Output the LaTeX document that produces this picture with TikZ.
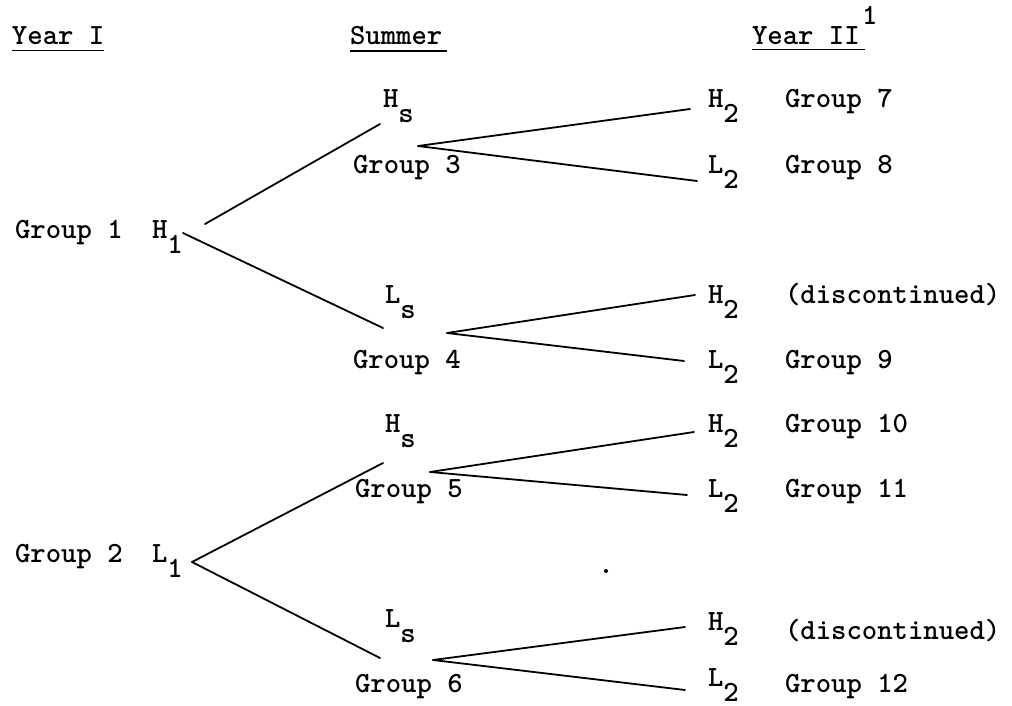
\documentclass[tikz,border=0pt]{standalone}
\begin{document}
\begin{tikzpicture}[x=1pt,y=-1pt,
  lab/.style={anchor=base west,inner sep=0pt,outer sep=0pt,font=\fontsize{29.3}{35}\selectfont\ttfamily\bfseries},
  br/.style={line width=1.8pt,line cap=round},
  ul/.style={line width=1.7pt}]
\newcommand{\lowsub}[1]{\raisebox{-15pt}{#1}}
\useasboundingbox (0,0) rectangle (1012,706);
% headings
\node[lab] (y1) at (12,45) {Year I};
\node[lab] (su) at (350,45) {Summer};
\node[lab] (y2) at (752,45) {Year II};
\node[lab] (fn) at (862,25) {1};
\draw[ul] (12,50.5) -- (104,50.5);
\draw[ul] (350,51) -- (447,51);
\draw[ul] (752,49.5) -- (865,49.5);
% year I
\node[lab] (g1) at (15,238) {Group 1};
\node[lab] (h1) at (152,238) {H\lowsub{1}};
\node[lab] (g2) at (15,562) {Group 2};
\node[lab] (l1) at (152,562) {L\lowsub{1}};
% summer
\node[lab] (hsa) at (383,108) {H\lowsub{s}};
\node[lab] (g3) at (353,173) {Group 3};
\node[lab] (lsa) at (385,303) {L\lowsub{s}};
\node[lab] (g4) at (353,368) {Group 4};
\node[lab] (hsb) at (385,432) {H\lowsub{s}};
\node[lab] (g5) at (355,497) {Group 5};
\node[lab] (lsb) at (385,627) {L\lowsub{s}};
\node[lab] (g6) at (355,692) {Group 6};
% year II
\node[lab] (h2a) at (708,108) {H\lowsub{2}};
\node[lab] (g7) at (785,108) {Group 7};
\node[lab] (l2a) at (708,173) {L\lowsub{2}};
\node[lab] (g8) at (785,173) {Group 8};
\node[lab] (h2b) at (708,303) {H\lowsub{2}};
\node[lab] (dc1) at (785,303) {(discontinued)};
\node[lab] (l2b) at (708,368) {L\lowsub{2}};
\node[lab] (g9) at (785,368) {Group 9};
\node[lab] (h2c) at (708,432) {H\lowsub{2}};
\node[lab] (g10) at (785,432) {Group 10};
\node[lab] (l2c) at (708,497) {L\lowsub{2}};
\node[lab] (g11) at (785,497) {Group 11};
\node[lab] (h2d) at (708,630) {H\lowsub{2}};
\node[lab] (dc2) at (785,639) {(discontinued)};
\node[lab] (l2d) at (708,686) {L\lowsub{2}};
\node[lab] (g12) at (785,692) {Group 12};
% branch points
\coordinate (h1o) at (205,224);
\coordinate (h1p) at (183,233);
\coordinate (hsaend) at (380,124);
\coordinate (lsaend) at (383,328);
\coordinate (g3o) at (418,146);
\coordinate (h2aend) at (690,109);
\coordinate (l2aend) at (697,181);
\coordinate (g4o) at (447,333);
\coordinate (h2bend) at (695,295);
\coordinate (l2bend) at (684,361);
\coordinate (l1o) at (192,562);
\coordinate (hsbend) at (383,463);
\coordinate (lsbend) at (380,658);
\coordinate (g5o) at (430,472);
\coordinate (h2cend) at (694,432);
\coordinate (l2cend) at (687,495);
\coordinate (g6o) at (433,660);
\coordinate (h2dend) at (685,627);
\coordinate (l2dend) at (685,690);
\draw[br] (h1o) -- (hsaend);
\draw[br] (h1p) -- (lsaend);
\draw[br] (g3o) -- (h2aend);
\draw[br] (g3o) -- (l2aend);
\draw[br] (g4o) -- (h2bend);
\draw[br] (g4o) -- (l2bend);
\draw[br] (l1o) -- (hsbend);
\draw[br] (l1o) -- (lsbend);
\draw[br] (g5o) -- (h2cend);
\draw[br] (g5o) -- (l2cend);
\draw[br] (g6o) -- (h2dend);
\draw[br] (g6o) -- (l2dend);
\fill (606,571) circle (2);
\end{tikzpicture}
\end{document}
